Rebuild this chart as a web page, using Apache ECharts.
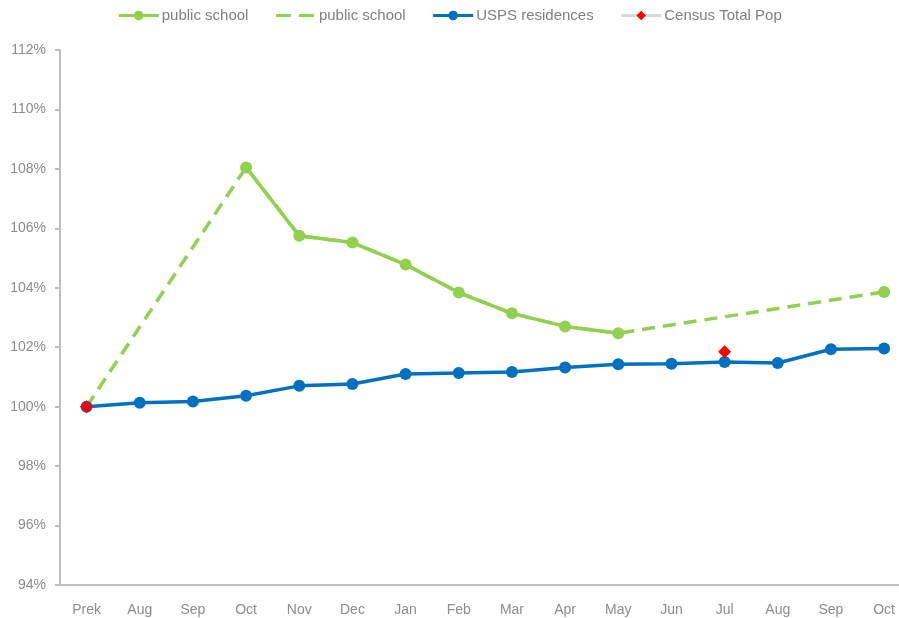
<!DOCTYPE html>
<html>
<head>
<meta charset="utf-8">
<script src="https://cdn.jsdelivr.net/npm/echarts@6/dist/echarts.min.js"></script>
<style>html,body{margin:0;padding:0;background:#fff;}#c{width:899px;height:618px;}</style>
</head>
<body>
<div id="c"></div>
<script>
var categories = ['Prek','Aug','Sep','Oct','Nov','Dec','Jan','Feb','Mar','Apr','May','Jun','Jul','Aug','Sep','Oct'];
var schoolActual = [null,null,null,108.05,105.75,105.52,104.78,103.84,103.14,102.70,102.47,null,null,null,null,103.86];
var schoolTrend  = [100.0,null,null,108.05,105.75,105.52,104.78,103.84,103.14,102.70,102.47,null,null,null,null,103.86];
var uspsValues   = [100.0,100.13,100.17,100.37,100.70,100.76,101.10,101.13,101.17,101.32,101.43,101.44,101.50,101.47,101.93,101.96];
var censusValues = [100.0,null,null,null,null,null,null,null,null,null,null,null,101.85,null,null,null];
var yTicks = [94,96,98,100,102,104,106,108,110,112];

function pairs(arr){ return arr.map(function(v,i){ return [i, v]; }); }
var idx = categories.map(function(c,i){ return i; });

var chart = echarts.init(document.getElementById('c'));
var gray = '#bfbfbf';
var txt = '#8c8c8c';
var font = 'Liberation Sans, Arial, sans-serif';
chart.setOption({
  animation: false,
  textStyle: {fontFamily: font},
  legend: {
    top: 3, left: 'center',
    itemWidth: 40, itemHeight: 12, itemGap: 26,
    textStyle: {color: '#808080', fontSize: 15, fontFamily: font, padding: [0, 0, 0, -2]},
    formatter: function(n){ return n.trim(); },
    data: [
      {name: 'public school', lineStyle: {width: 3}},
      {name: 'public school ', itemStyle: {opacity: 0}, lineStyle: {type: [15, 8], width: 3}},
      {name: 'USPS residences', lineStyle: {width: 3}},
      {name: 'Census Total Pop', lineStyle: {color: '#d9d9d9', width: 3}}
    ]
  },
  grid: {left: 60, right: 0, top: 50, bottom: 33},
  xAxis: {
    type: 'value', min: -0.5, max: 15.28,
    axisLine: {show: true, onZero: false, lineStyle: {color: gray, width: 2}},
    axisTick: {show: false},
    splitLine: {show: false},
    axisLabel: {
      customValues: idx, margin: 18,
      color: txt, fontSize: 14,
      formatter: function(v){ return categories[Math.round(v)]; }
    }
  },
  yAxis: {
    type: 'value', min: yTicks[0], max: yTicks[yTicks.length-1], interval: 2,
    axisLine: {show: true, onZero: false, lineStyle: {color: gray, width: 2}},
    axisTick: {show: true, length: 5, lineStyle: {color: gray, width: 2}},
    splitLine: {show: false},
    axisLabel: {color: txt, fontSize: 14, margin: 14, formatter: '{value}%'}
  },
  series: [
    {
      name: 'public school ', type: 'line', data: pairs(schoolTrend), connectNulls: true,
      showSymbol: false, symbol: 'none',
      lineStyle: {color: '#92D050', width: 3.5, type: [13, 8]},
      itemStyle: {color: '#92D050'}, z: 2
    },
    {
      name: 'public school', type: 'line', data: pairs(schoolActual), connectNulls: false,
      symbol: 'circle', symbolSize: 12, showAllSymbol: true,
      lineStyle: {color: '#92D050', width: 3.5},
      itemStyle: {color: '#92D050'}, z: 3
    },
    {
      name: 'USPS residences', type: 'line', data: pairs(uspsValues),
      symbol: 'circle', symbolSize: 12, showAllSymbol: true,
      lineStyle: {color: '#0070C0', width: 3.5},
      itemStyle: {color: '#0070C0'}, z: 4
    },
    {
      name: 'Census Total Pop', type: 'line', data: pairs(censusValues), connectNulls: false,
      symbol: 'diamond', symbolSize: 13, showAllSymbol: true,
      lineStyle: {color: '#d9d9d9', width: 2},
      itemStyle: {color: '#FF0000'}, z: 5
    }
  ]
});
</script>
</body>
</html>
